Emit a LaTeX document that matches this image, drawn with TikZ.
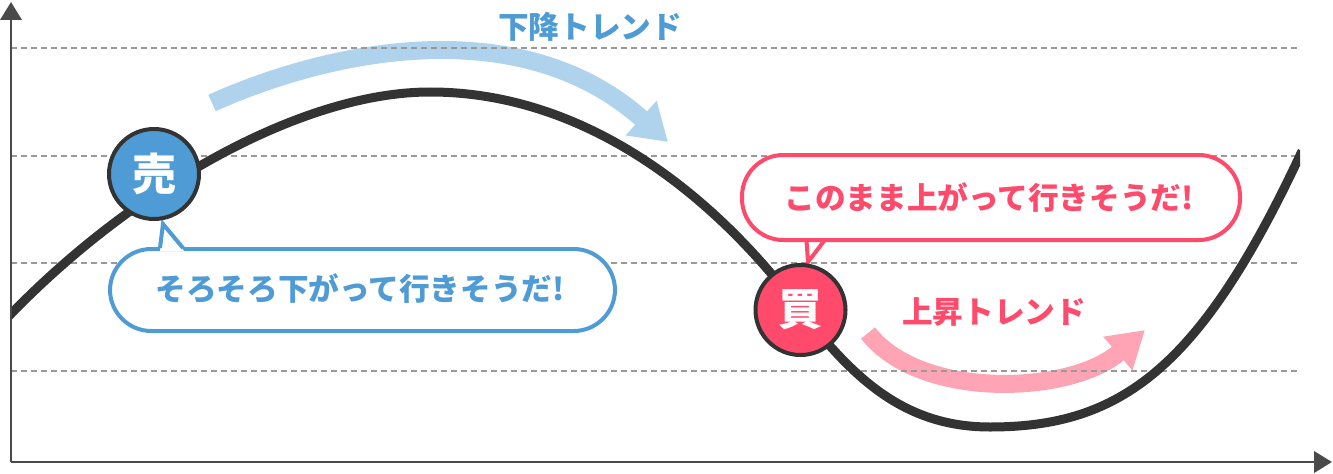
\documentclass[tikz,border=0pt]{standalone}
\usepackage{fontspec}
\newfontfamily\jp{Noto Sans CJK JP}
\usetikzlibrary{arrows.meta}
\definecolor{cblue}{HTML}{4E9BD5}
\definecolor{clblue}{HTML}{B0D3ED}
\definecolor{cpink}{HTML}{FF4A6B}
\definecolor{clpink}{HTML}{FFA4B5}
\definecolor{cdark}{HTML}{333333}
\definecolor{cgrid}{HTML}{999999}
\definecolor{caxis}{HTML}{4A4A4A}
\tikzset{
  axisline/.style={draw=caxis, line width=2pt, -{Triangle[length=13.5pt 0, width=16pt 0]}},
  gridline/.style={draw=cgrid, line width=1.1pt, dash pattern=on 4.5pt off 3pt},
  pricecurve/.style={draw=cdark, line width=6.75pt},
  band/.style={line width=13.5pt},
  dotnode/.style={circle, draw=cdark, line width=3pt, minimum size=67.5pt, inner sep=0pt,
     text=white, font=\jp\bfseries\fontsize{33}{36}\selectfont},
  bubble/.style={rectangle, rounded corners=31pt, draw, fill=white, line width=3pt, inner sep=0pt},
  lbl/.style={font=\jp\bfseries\fontsize{23}{28}\selectfont, inner sep=0pt},
}
\begin{document}
\begin{tikzpicture}[x=0.75pt, y=-0.75pt]
\useasboundingbox (0,0) rectangle (1333,474);
% trend bands
\coordinate (bs) at (212,103);
\coordinate (be) at (668,142);
\draw[band, draw=clblue, -{Triangle[length=27pt 0, width=33pt 0]}]
  (bs) .. controls (330,50) and (520,10) .. (be);
\coordinate (ps) at (868,333);
\coordinate (pe) at (1145,330);
\draw[band, draw=clpink, -{Triangle[length=27pt 0, width=31.5pt 0]}]
  (ps) .. controls (920,400) and (1070,395) .. (pe);
% grid
\foreach \yy/\nm in {48/ga,156/gb,263/gc,371/gd}{
  \coordinate (\nm l) at (11,\yy);
  \coordinate (\nm r) at (1300,\yy);
  \draw[gridline] (\nm l) -- (\nm r);
}
% price curve
\begin{scope}
\clip (11,0) rectangle (1300,474);
\coordinate (c0) at (8,317);
\coordinate (c1) at (430,92);
\coordinate (c2) at (800,310);
\coordinate (c3) at (990,427);
\coordinate (c4) at (1302,151);
\draw[pricecurve]
  (c0) .. controls (130,190) and (300,92) .. (c1)
       .. controls (600,92) and (730,215) .. (c2)
       .. controls (850,373) and (900,427) .. (c3)
       .. controls (1120,427) and (1200,370) .. (c4);
\end{scope}
% axes
\coordinate (o) at (11,462);
\coordinate (ytip) at (11,2);
\coordinate (xtip) at (1332,462);
\draw[axisline] (o) -- (ytip);
\draw[axisline] (o) -- (xtip);
% bubbles
\node[bubble, draw=cblue, minimum width=378.75pt, minimum height=61.5pt] (sayB) at (362.5,290) {};
\fill[white] (160,251) -- (163,224) -- (184,251) -- cycle;
\draw[cblue, line width=3pt] (160,248) -- (163,224) -- (183,248);
\node[lbl, text=cblue] (tB) at (360,289) {そろそろ下がって行きそうだ!};

\node[bubble, draw=cpink, minimum width=373.5pt, minimum height=63.75pt] (sayP) at (991,197.5) {};
\fill[white] (806,244) -- (808,262) -- (826,244) -- cycle;
\draw[cpink, line width=3pt] (806.5,241) -- (808,262) -- (824,241);
\node[lbl, text=cpink] (tP) at (989,198) {このまま上がって行きそうだ!};
% circles
\node[dotnode, fill=cblue] (sell) at (154,174) {売};
\node[dotnode, fill=cpink] (buy) at (800.5,310) {買};
% trend labels
\node[lbl, text=cblue] (down) at (590,27) {下降トレンド};
\node[lbl, text=cpink] (up) at (994,312) {上昇トレンド};
\end{tikzpicture}
\end{document}
